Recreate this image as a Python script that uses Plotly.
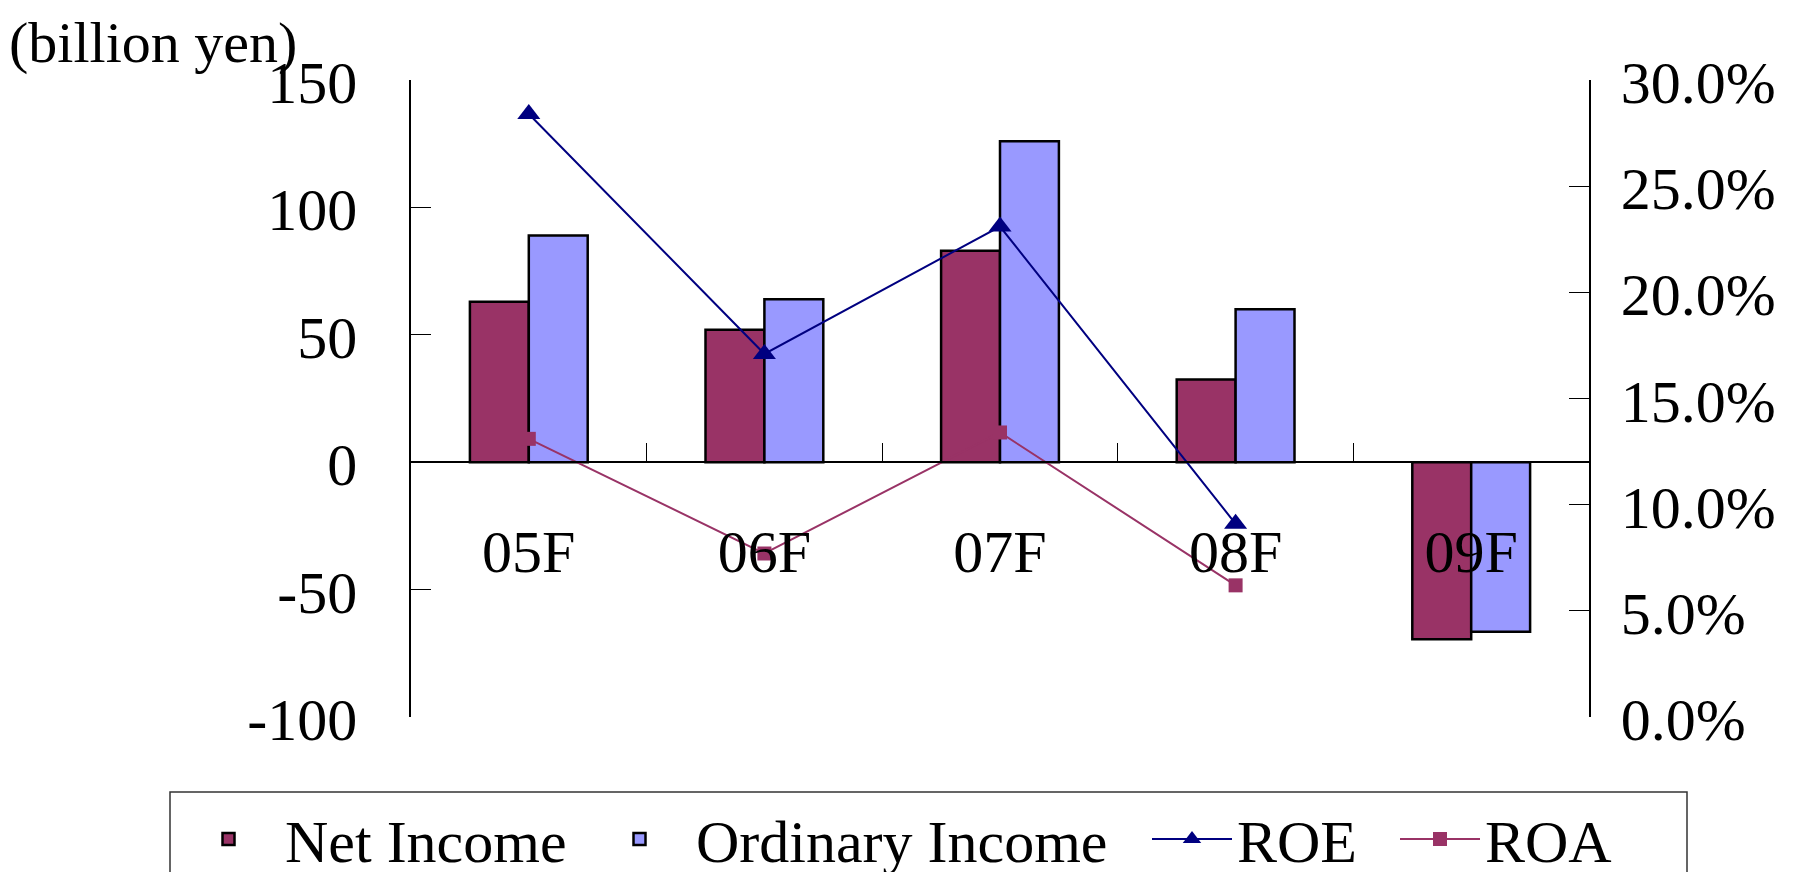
import plotly.graph_objects as go

categories = ["05F", "06F", "07F", "08F", "09F"]
net_income = [63, 52, 83, 32.5, -69.5]
ordinary_income = [89, 64, 126, 60, -66.5]
roe_categories = ["05F", "06F", "07F", "08F"]
roe = [0.284, 0.171, 0.231, 0.091]
roa = [0.131, 0.077, 0.134, 0.062]
left_ticks = [-100, -50, 0, 50, 100, 150]
left_tick_labels = ["-100", "-50", "0", "50", "100", "150"]
right_ticks = [0, 0.05, 0.10, 0.15, 0.20, 0.25, 0.30]

FONT = "Liberation Serif, Times New Roman, serif"
FS = 60

# plot area in screen px (page has 8px body margin)
PL, PR, PT, PB = 411, 1589, 80, 717
W, H = 1805, 872
OFF = 8


def px_x(px):
    return (px - PL) / (PR - PL)


def px_y(py):
    return (PB - py) / (PB - PT)


fig = go.Figure()
fig.add_trace(go.Bar(x=categories, y=net_income, name="Net Income", legend="legend",
                     marker=dict(color="#993366", line=dict(color="black", width=2.5))))
fig.add_trace(go.Bar(x=categories, y=ordinary_income, name="Ordinary Income", legend="legend2",
                     marker=dict(color="#9999FF", line=dict(color="black", width=2.5))))
fig.add_trace(go.Scatter(x=roe_categories, y=roe, name="ROE", yaxis="y2", mode="lines+markers",
                         legend="legend3",
                         line=dict(color="#000080", width=2),
                         marker=dict(symbol="triangle-up", size=20, color="#000080")))
fig.add_trace(go.Scatter(x=roe_categories, y=roa, name="ROA", yaxis="y2", mode="lines+markers",
                         legend="legend4",
                         line=dict(color="#993366", width=2),
                         marker=dict(symbol="square", size=14, color="#993366")))

leg_common = dict(orientation="h", yanchor="middle", y=px_y(839), xanchor="left",
                  borderwidth=0, bgcolor="rgba(0,0,0,0)", font=dict(size=FS, family=FONT))

fig.update_layout(
    width=W, height=H, autosize=False,
    margin=dict(l=PL - OFF, r=W + OFF - PR, t=PT - OFF, b=H + OFF - PB, autoexpand=False),
    paper_bgcolor="white", plot_bgcolor="white",
    font=dict(family=FONT, size=FS, color="black"),
    barmode="group", bargap=0.50, bargroupgap=0,
    showlegend=True,
    legend=dict(x=px_x(172), itemwidth=103, **leg_common),
    legend2=dict(x=px_x(583), itemwidth=103, **leg_common),
    legend3=dict(x=px_x(1147), itemwidth=80, **leg_common),
    legend4=dict(x=px_x(1395), itemwidth=80, **leg_common),
    xaxis=dict(type="category", range=[-0.5, 4.5], showline=True, linecolor="black", linewidth=1.5,
               anchor="free", position=0.4, ticks="inside", ticklen=18, tickcolor="black",
               tickwidth=1, tickson="boundaries", showgrid=False, zeroline=False,
               ticklabelstandoff=37, tickfont=dict(size=FS, family=FONT)),
    yaxis=dict(range=[-100, 150], tickvals=left_ticks, ticktext=left_tick_labels, ticks="inside",
               ticklen=20, tickcolor="black", showline=True, linecolor="black", linewidth=1.5,
               showgrid=False, zeroline=False, ticklabelstandoff=40, ticklabelshift=2,
               tickfont=dict(size=FS, family=FONT)),
    yaxis2=dict(range=[0, 0.30], tickvals=right_ticks, tickformat=".1%", overlaying="y", side="right",
                ticks="inside", ticklen=20, tickcolor="black", showline=True, linecolor="black",
                linewidth=1.5, showgrid=False, zeroline=False, ticklabelstandoff=18,
                ticklabelshift=2, tickfont=dict(size=FS, family=FONT)),
    shapes=[dict(type="rect", xref="paper", yref="paper", x0=px_x(170), x1=px_x(1687),
                 y0=px_y(792), y1=px_y(940), line=dict(color="#333333", width=1.5),
                 fillcolor="rgba(0,0,0,0)", layer="below")],
    annotations=[dict(text="(billion yen)", xref="paper", yref="paper", x=px_x(8), y=px_y(43),
                      xanchor="left", yanchor="middle", showarrow=False, borderpad=0,
                      font=dict(size=58, family=FONT))],
)

fig.write_html("out.html")
